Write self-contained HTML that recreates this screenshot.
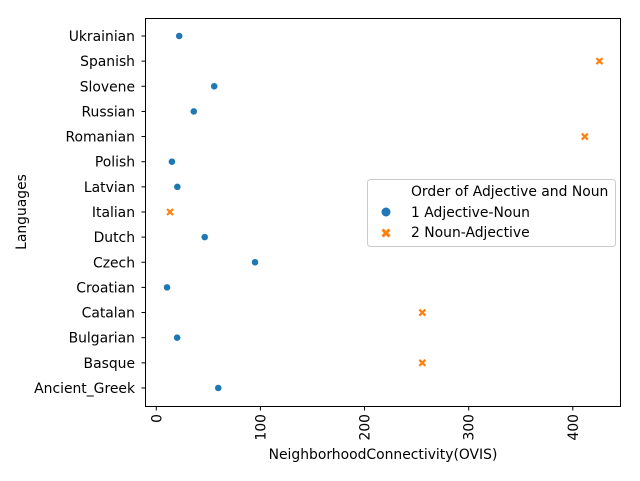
<!DOCTYPE html>
<html><head><meta charset="utf-8"><style>
body{margin:0;background:#fff}
text{font-family:"DejaVu Sans","Liberation Sans",sans-serif;font-size:13.9px;fill:#000}
</style></head><body>
<svg id="chart" width="640" height="476" xmlns="http://www.w3.org/2000/svg">
<g id="ticks"></g>
<g id="marks"></g>
<rect x="145.5" y="18.5" width="475" height="388" fill="none" stroke="#000" stroke-width="1"/>
<text x="383" y="459" text-anchor="middle">NeighborhoodConnectivity(OVIS)</text>
<text transform="translate(26,212) rotate(-90)" text-anchor="middle">Languages</text>
<g>
<rect x="367.5" y="179.5" width="248" height="67" rx="3" fill="#fff" fill-opacity="0.8" stroke="#ccc"/>
<text x="411" y="196">Order of Adjective and Noun</text>
<circle cx="386" cy="212" r="4.5" fill="#1f77b4"/>
<text x="411" y="217">1 Adjective-Noun</text>
<path d="M382.5,229.5L389.5,236.5M389.5,229.5L382.5,236.5" stroke="#ff7f0e" stroke-width="3"/>
<text x="411" y="237">2 Noun-Adjective</text>
</g>
</svg>
<script>
const languages=["Ukrainian","Spanish","Slovene","Russian","Romanian","Polish","Latvian","Italian","Dutch","Czech","Croatian","Catalan","Bulgarian","Basque","Ancient_Greek"];
const connectivity=[22,425.6,55.6,36,411.5,15,20.2,13.2,46.5,94.8,10.3,255.5,20,255.5,59.5];
const orderGroup=[1,2,1,1,2,1,1,2,1,1,1,2,1,2,1];
const xTicks=[0,100,200,300,400];
const NS="http://www.w3.org/2000/svg";
const xs=v=>156.3+v*1.0413;
const ys=i=>36+i*25.14;
const tg=document.getElementById('ticks'),mg=document.getElementById('marks');
function mk(t,a,p){const e=document.createElementNS(NS,t);for(const k in a)e.setAttribute(k,a[k]);p.appendChild(e);return e;}
languages.forEach((l,i)=>{
 const y=ys(i);
 const tk=mk('line',{x1:141.5,x2:145.5,y1:y,y2:y,stroke:'#000'},tg);
 
 
 const t=mk('text',{x:135,y:y+5,'text-anchor':'end'},tg);t.textContent=l;
 
 
});
xTicks.forEach(v=>{
 const x=xs(v);
 const tk=mk('line',{x1:x,x2:x,y1:406.5,y2:410.5,stroke:'#000'},tg);
 
 
 const t=mk('text',{transform:`translate(${x+5},414) rotate(-90)`,'text-anchor':'end'},tg);t.textContent=v;
 
 
});
languages.forEach((l,i)=>{
 const x=xs(connectivity[i]),y=ys(i);
 let e;
 if(orderGroup[i]===1){
  e=mk('circle',{cx:x,cy:y,r:3.5,fill:'#1f77b4',stroke:'#fff','stroke-width':0.5},mg);
 }else{
  e=mk('path',{d:`M${x-3},${y-3}L${x+3},${y+3}M${x+3},${y-3}L${x-3},${y+3}`,stroke:'#ff7f0e','stroke-width':2.2},mg);
 }
 
 
});
</script>
</body></html>
